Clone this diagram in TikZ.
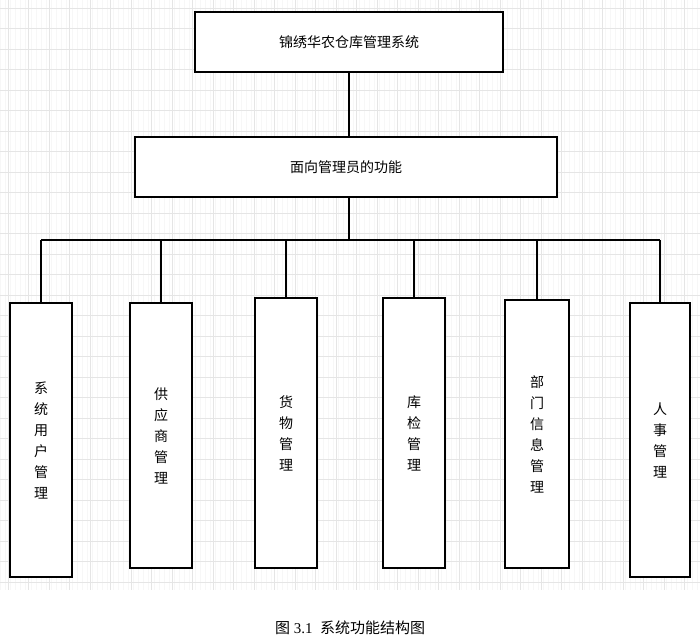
\documentclass[tikz,border=0pt]{standalone}
\usepackage{fontspec}
\setmainfont{Liberation Serif}
\newfontfamily\cjk{Noto Sans CJK SC}
\begin{document}
\begin{tikzpicture}[x=1pt,y=-1pt]
    \tikzset{box/.style={rectangle,draw,line width=2pt,fill=white,inner sep=0pt,font=\cjk\fontsize{14}{21}\selectfont,align=center}}
    \tikzset{wire/.style={line width=2pt}}

    \useasboundingbox (0,0) rectangle (700,643);
    % background grid
    \draw[gray!6,line width=0.3pt] (0,0) grid[step=5.125] (700,590);
    \foreach \g in {0,...,33} {
        \draw[gray!20,line width=0.8pt] (8+20.5*\g,0) -- (8+20.5*\g,590);
    }
    \foreach \g in {0,...,28} {
        \draw[gray!20,line width=0.8pt] (0,8+20.5*\g) -- (700,8+20.5*\g);
    }

    \node[box,minimum width=308pt,minimum height=60pt] (top) at (349,42) {锦绣华农仓库管理系统};
    \node[box,minimum width=422pt,minimum height=60pt] (adm) at (346,167) {面向管理员的功能};
    \coordinate (bus) at (349,240);

    \node[box,minimum width=62pt,minimum height=274pt] (m1) at (41,440) {系\\统\\用\\户\\管\\理};
    \node[box,minimum width=62pt,minimum height=265pt] (m2) at (161,435.5) {供\\应\\商\\管\\理};
    \node[box,minimum width=62pt,minimum height=270pt] (m3) at (286,433) {货\\物\\管\\理};
    \node[box,minimum width=62pt,minimum height=270pt] (m4) at (414,433) {库\\检\\管\\理};
    \node[box,minimum width=64pt,minimum height=268pt] (m5) at (537,434) {部\\门\\信\\息\\管\\理};
    \node[box,minimum width=60pt,minimum height=274pt] (m6) at (660,440) {人\\事\\管\\理};

    \draw[wire] (top.south) -- (top.south |- adm.north);
    \draw[wire] (bus |- adm.south) -- (bus);
    \draw[wire] (m1.north |- bus) -- (m6.north |- bus);
    \foreach \m in {m1,m2,m3,m4,m5,m6} {
        \draw[wire] (\m.north |- bus) -- (\m.north);
    }

    \node[font=\fontsize{15}{18}\selectfont] (cap) at (350,628) {{\cjk 图} 3.1\ \ {\cjk 系统功能结构图}};
\end{tikzpicture}
\end{document}
